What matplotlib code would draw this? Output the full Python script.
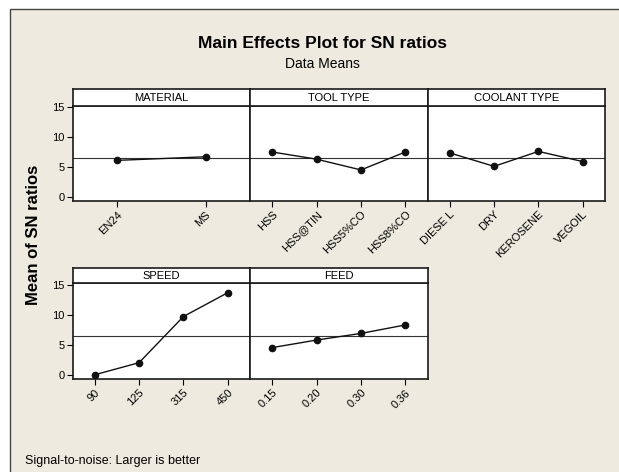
import numpy as np
import matplotlib
matplotlib.use('Agg')
import matplotlib.pyplot as plt
from matplotlib.patches import Rectangle

plt.rcParams['font.family'] = ['Liberation Sans Narrow', 'Liberation Sans', 'DejaVu Sans']

# ============ data ============
material_levels = ['EN24', 'MS']
material_sn = [6.1, 6.7]

tool_levels = ['HSS', 'HSS@TIN', 'HSS5%CO', 'HSS8%CO']
tool_sn = [7.5, 6.3, 4.5, 7.5]

coolant_levels = ['DIESE L', 'DRY', 'KEROSENE', 'VEGOIL']
coolant_sn = [7.35, 5.1, 7.6, 5.9]

speed_levels = ['90', '125', '315', '450']
speed_sn = [0.05, 2.05, 9.7, 13.65]

feed_levels = ['0.15', '0.20', '0.30', '0.36']
feed_sn = [4.55, 5.8, 6.9, 8.3]

y_ticks = [0, 5, 10, 15]
# ======================================================

BG = '#EEEAE0'
LINE = '#111111'

grand_mean = np.mean(np.concatenate([tool_sn, coolant_sn, speed_sn, feed_sn]))

fig = plt.figure(figsize=(6.19, 4.72), dpi=100, facecolor='white')

# beige frame behind everything
fig.patches.append(Rectangle((10 / 619, -0.1), 1.2, 1 - 9 / 472 + 0.1,
                             transform=fig.transFigure, facecolor=BG,
                             edgecolor='#444444', linewidth=1.0, zorder=-10))

W, H = 619.0, 472.0
col_x = [72.5, 250.0, 427.5]
panel_w = 177.5


def add_panel(col, top_px, bottom_px, head_top_px, title, levels, values, show_y):
    x0 = col_x[col] / W
    w = panel_w / W
    ax = fig.add_axes([x0, 1 - bottom_px / H, w, (bottom_px - top_px) / H])
    hx = fig.add_axes([x0, 1 - top_px / H, w, (top_px - head_top_px) / H])

    xs = np.arange(len(levels))
    ax.axhline(grand_mean, color='#333333', linewidth=0.8, zorder=1)
    ax.plot(xs, values, color=LINE, linewidth=1.0, marker='o',
            markersize=4.5, zorder=3)
    ax.set_xlim(-0.5, len(levels) - 0.5)
    ax.set_ylim(-0.7, 15.2)
    ax.set_xticks(xs)
    ax.set_xticklabels(levels, rotation=45, ha='right', va='top',
                       rotation_mode='anchor', fontsize=8)
    ax.set_yticks(y_ticks)
    if show_y:
        ax.set_yticklabels([str(t) for t in y_ticks], fontsize=8)
        ax.tick_params(axis='y', direction='out', length=4, width=0.8, pad=1.5)
    else:
        ax.tick_params(axis='y', left=False, labelleft=False)
    ax.tick_params(axis='x', direction='out', length=4, width=0.8, pad=2)
    ax.set_facecolor('white')
    for s in ax.spines.values():
        s.set_linewidth(1.2)
        s.set_color('#1a1a1a')

    hx.set_xticks([])
    hx.set_yticks([])
    hx.set_facecolor('white')
    for s in hx.spines.values():
        s.set_linewidth(1.2)
        s.set_color('#1a1a1a')
    hx.text(0.5, 0.45, title, ha='center', va='center', fontsize=8,
            transform=hx.transAxes)
    return ax


# top row
add_panel(0, 106, 201, 88.7, 'MATERIAL', material_levels, material_sn, True)
add_panel(1, 106, 201, 88.7, 'TOOL TYPE', tool_levels, tool_sn, False)
add_panel(2, 106, 201, 88.7, 'COOLANT TYPE', coolant_levels, coolant_sn, False)
# bottom row
add_panel(0, 283.3, 379.3, 267.7, 'SPEED', speed_levels, speed_sn, True)
add_panel(1, 283.3, 379.3, 267.7, 'FEED', feed_levels, feed_sn, False)

fig.text(322 / W, 1 - 43 / H, 'Main Effects Plot for SN ratios',
         ha='center', va='center', fontsize=12.5, fontweight='bold')
fig.text(322 / W, 1 - 64 / H, 'Data Means', ha='center', va='center',
         fontsize=10)
fig.text(34 / W, 1 - 235 / H, 'Mean of SN ratios', ha='center', va='center',
         rotation=90, fontsize=12, fontweight='bold')
fig.text(25 / W, 1 - 461 / H, 'Signal-to-noise: Larger is better',
         ha='left', va='center', fontsize=9)

fig.savefig('out.png', dpi=100, facecolor='white')
